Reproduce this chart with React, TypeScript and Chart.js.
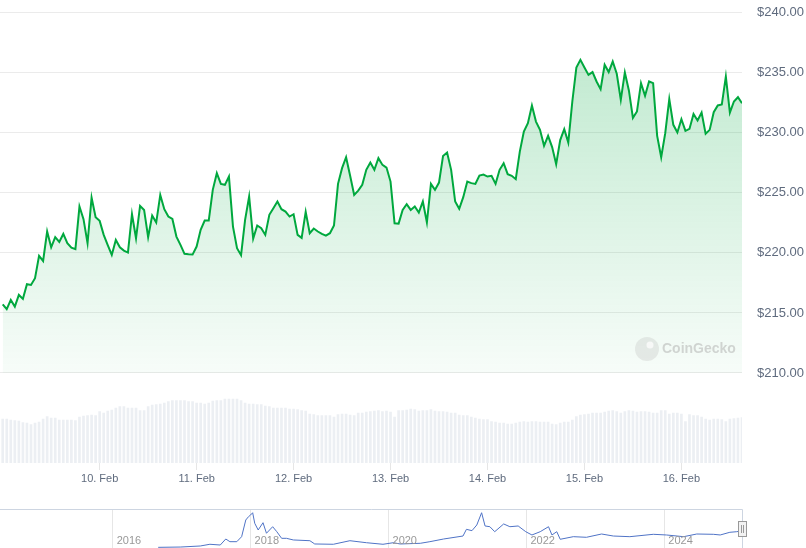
import React, { useEffect, useRef } from "react";
import { Chart, registerables } from "chart.js";

Chart.register(...registerables);

const FONT = "'Liberation Sans', Arial, Helvetica, sans-serif";
const GREEN = "#00a83e";
const LABEL = "#5f6b7e";

// hours since 9 Feb 00:00 at which the day ticks sit
const dayTickHours = [24, 48, 72, 96, 120, 144, 168];
const dayLabels = ["10. Feb", "11. Feb", "12. Feb", "13. Feb", "14. Feb", "15. Feb", "16. Feb"];
const priceTicks = [210, 215, 220, 225, 230, 235, 240];

// hourly prices (USD), 9 Feb 00:00 -> 16 Feb 15:00
const priceValues = [
  215.72, 215.31, 216.08, 215.53, 216.5, 216.17, 217.39, 217.33, 217.89, 219.75,
  219.33, 221.78, 220.47, 221.31, 220.92, 221.58, 220.81, 220.44, 220.31, 223.86,
  222.81, 220.81, 224.61, 222.97, 222.67, 221.5, 220.64, 219.83, 221.08, 220.47,
  220.19, 220.03, 223.22, 221.22, 223.92, 223.58, 221.31, 223.11, 222.53, 224.83,
  223.64, 223.03, 222.83, 221.36, 220.67, 219.92, 219.88, 219.86, 220.53, 221.92,
  222.69, 222.69, 225.25, 226.64, 225.75, 225.67, 226.36, 222.19, 220.39, 219.81,
  222.75, 224.69, 221.19, 222.28, 222.06, 221.5, 223.17, 223.72, 224.28, 223.64,
  223.44, 223.03, 223.22, 221.5, 221.25, 223.42, 221.64, 222.03, 221.78, 221.58,
  221.44, 221.64, 222.28, 225.75, 227.06, 227.97, 226.42, 224.83, 225.19, 225.67,
  226.92, 227.53, 226.92, 227.89, 227.33, 227.11, 225.94, 222.47, 222.44, 223.58,
  224.06, 223.58, 223.86, 223.36, 224.28, 222.53, 225.75, 225.25, 225.86, 228.08,
  228.36, 226.92, 224.28, 223.67, 224.64, 225.94, 225.81, 225.75, 226.44, 226.53,
  226.36, 226.42, 225.75, 226.92, 227.47, 226.56, 226.42, 226.14, 228.44, 230.11,
  230.81, 232.28, 230.94, 230.25, 228.92, 229.75, 228.81, 227.39, 229.4, 230.31,
  229.19, 232.61, 235.44, 236.08, 235.44, 234.83, 235.06, 234.28, 233.64, 235.67,
  235.06, 235.94, 234.92, 232.75, 235.03, 233.53, 231.25, 231.78, 234.14, 233.08,
  234.28, 234.14, 229.75, 227.97, 229.97, 232.81, 230.67, 230.03, 231.14, 230.17,
  230.33, 231.58, 231.03, 231.69, 229.92, 230.25, 231.72, 232.28, 232.36, 234.69,
  231.69, 232.61, 232.97, 232.47,
];

// hourly volume (USD millions, approximate)
const volumeValues = [
  44, 44, 43, 42.5, 42, 40.5, 40, 38.5, 40, 41,
  44, 46.5, 45, 45, 43, 43, 43, 43, 42.5, 46,
  47, 47.5, 48, 47.5, 51.5, 50, 52, 53, 55, 56.5,
  56.5, 55, 55, 55, 52.5, 52.5, 56.5, 58, 58.5, 59,
  60, 61.5, 62.5, 62.5, 62.5, 62.5, 61.5, 61.5, 60, 60,
  59, 60, 62, 62.5, 62.5, 64, 64, 64, 64, 62.5,
  60, 59, 59, 58.5, 58.5, 57, 56.5, 55, 55, 55,
  55, 54, 54, 53.5, 52.5, 52, 49, 48.5, 47.5, 47.5,
  47.5, 47.5, 46, 48.5, 49, 49, 48, 47.5, 50, 50,
  51, 51.5, 52, 52.5, 51.5, 52, 51, 46, 52.5,
  52.5, 53, 54, 53.5, 52, 52.5, 52.5, 53.5, 52, 51.5,
  51.5, 51, 50, 50, 48, 47.5, 47.5, 46, 45, 44,
  43.5, 43.5, 41.5, 41, 40, 40, 39, 39, 40, 41,
  41.5, 41, 41.5, 41.5, 41, 41, 41, 39, 38.5, 40,
  41, 41, 43, 46.5, 48, 48.5, 49, 50, 50, 50,
  51, 52, 52.5, 51.5, 50, 51.5, 52.5, 52, 51, 51.5,
  51.5, 51, 50, 50, 52.5, 52.5, 49, 50, 50, 49,
  41.5, 48.5, 47.5, 47.5, 46, 44, 43, 44, 44, 43.5,
  41.5, 44, 44.5, 45, 45.5,
];

// navigator: full history (decimal year, USD)
const navYearTicks = [2016, 2018, 2020, 2022, 2024];
const navYears = [
  2016.66, 2016.98, 2017.27, 2017.41, 2017.56, 2017.64, 2017.7, 2017.8, 2017.87, 2017.93,
  2017.97, 2018.0, 2018.03, 2018.06, 2018.11, 2018.18, 2018.23, 2018.32, 2018.38, 2018.45,
  2018.52, 2018.62, 2018.86, 2018.93, 2019.2, 2019.44, 2019.68, 2019.92, 2020.07, 2020.17,
  2020.46, 2020.6, 2020.8, 2021.08, 2021.13, 2021.21, 2021.28, 2021.35, 2021.4, 2021.47,
  2021.54, 2021.67, 2021.76, 2021.88, 2021.99, 2022.08, 2022.2, 2022.32, 2022.37, 2022.44,
  2022.49, 2022.68, 2022.87, 2023.09, 2023.26, 2023.5, 2023.84, 2024.03, 2024.28, 2024.47,
  2024.71, 2024.81, 2024.95, 2025.05, 2025.13,
];
const navPrices = [
  9, 13, 27, 50, 40, 121, 85, 85, 152, 376,
  421, 444, 474, 332, 242, 340, 198, 286, 219, 130,
  130, 108, 98, 54, 50, 98, 71, 50, 71, 54,
  63, 85, 121, 161, 251, 233, 309, 474, 296, 286,
  219, 323, 286, 296, 219, 175, 219, 286, 175, 219,
  117, 152, 144, 188, 161, 152, 184, 175, 152, 188,
  184, 175, 211, 219, 232,
];

Chart.defaults.font.family = FONT;

const MAIN_TOP = -10;
const MAIN_H = 510;

function MainChart() {
  const ref = useRef<HTMLCanvasElement>(null);
  useEffect(() => {
    const canvas = ref.current!;
    const watermark = {
      id: "watermark",
      afterDatasetsDraw(chart: any) {
        const c = chart.ctx;
        const cx = 647;
        const cy = 349 - MAIN_TOP;
        c.save();
        c.fillStyle = "rgba(150,150,150,0.18)";
        c.beginPath();
        c.arc(cx, cy, 12, 0, Math.PI * 2);
        c.fill();
        c.fillStyle = "rgba(255,255,255,0.7)";
        c.beginPath();
        c.arc(cx + 3, cy - 4, 3.5, 0, Math.PI * 2);
        c.fill();
        c.fillStyle = "rgba(150,150,150,0.38)";
        c.font = "600 14px " + FONT;
        c.textBaseline = "middle";
        c.textAlign = "left";
        c.fillText("CoinGecko", 662, cy);
        c.restore();
      },
    };
    const chart = new Chart(canvas, {
      type: "line",
      data: {
        datasets: [
          {
            type: "line",
            data: priceValues.map((v, i) => ({ x: i, y: v })),
            yAxisID: "y",
            borderColor: GREEN,
            borderWidth: 2,
            pointRadius: 0,
            tension: 0,
            fill: { value: 210 },
            backgroundColor: (ctx: any) => {
              const ch = ctx.chart;
              const ca = ch.chartArea;
              if (!ca) return "transparent";
              const bottom = ch.scales.y.getPixelForValue(210);
              const g = ch.ctx.createLinearGradient(0, ca.top, 0, bottom);
              g.addColorStop(0, "rgba(0,168,62,0.27)");
              g.addColorStop(1, "rgba(0,168,62,0.03)");
              return g;
            },
            order: 0,
          } as any,
          {
            type: "bar",
            data: volumeValues.map((v, i) => ({ x: i, y: v })),
            yAxisID: "yv",
            backgroundColor: "#eceff3",
            barThickness: 2,
            order: 1,
          } as any,
        ],
      },
      options: {
        animation: false,
        responsive: false,
        maintainAspectRatio: false,
        layout: { padding: { top: 0, left: 0, right: 0, bottom: 0 } },
        plugins: { legend: { display: false }, tooltip: { enabled: false } },
        scales: {
          x: {
            type: "linear",
            min: -0.67,
            max: 183,
            offset: false,
            afterBuildTicks: (ax: any) => {
              ax.ticks = dayTickHours.map((v) => ({ value: v }));
            },
            ticks: {
              autoSkip: false,
              maxRotation: 0,
              padding: 2,
              color: LABEL,
              font: { size: 11, family: FONT },
              callback: (v: any) => {
                const k = dayTickHours.indexOf(Number(v));
                return k >= 0 ? dayLabels[k] : "";
              },
            },
            grid: {
              offset: false,
              drawOnChartArea: false,
              drawTicks: true,
              tickLength: 7,
              color: "#e6e6e6",
            },
            border: { display: false },
            afterFit: (ax: any) => {
              ax.height = 37;
            },
          },
          y: {
            position: "right",
            min: 202.5,
            max: 240,
            afterBuildTicks: (ax: any) => {
              ax.ticks = priceTicks.map((v) => ({ value: v }));
            },
            ticks: {
              padding: 15,
              color: LABEL,
              font: { size: 13, family: FONT },
              callback: (v: any) => "$" + Number(v).toFixed(2),
            },
            grid: { drawTicks: false, color: "#ebebeb" },
            border: { display: false },
            afterFit: (ax: any) => {
              ax.width = 64;
            },
          },
          yv: { display: false, min: 0, max: 450 },
        },
      } as any,
      plugins: [watermark],
    });
    return () => chart.destroy();
  }, []);
  return (
    <canvas
      ref={ref}
      width={806}
      height={MAIN_H}
      style={{ position: "absolute", left: 0, top: MAIN_TOP, width: 806, height: MAIN_H }}
    />
  );
}

function Navigator() {
  const ref = useRef<HTMLCanvasElement>(null);
  useEffect(() => {
    const canvas = ref.current!;
    const deco = {
      id: "navdeco",
      afterDraw(chart: any) {
        const c = chart.ctx;
        const ca = chart.chartArea;
        const xs = chart.scales.x;
        c.save();
        c.strokeStyle = "#cdd5e1";
        c.lineWidth = 1;
        c.beginPath();
        c.moveTo(0, ca.top + 0.5);
        c.lineTo(ca.right + 0.5, ca.top + 0.5);
        c.lineTo(ca.right + 0.5, ca.bottom);
        c.stroke();
        c.fillStyle = "#999999";
        c.font = "11px " + FONT;
        c.textBaseline = "middle";
        c.textAlign = "left";
        navYearTicks.forEach((y) => {
          c.fillText(String(y), xs.getPixelForValue(y) + 4, 41);
        });
        // handle
        c.fillStyle = "#f2f2f2";
        c.strokeStyle = "#999999";
        c.fillRect(738.5, 21.5, 8, 15);
        c.strokeRect(738.5, 21.5, 8, 15);
        c.beginPath();
        c.moveTo(741.5, 25);
        c.lineTo(741.5, 33);
        c.moveTo(743.5, 25);
        c.lineTo(743.5, 33);
        c.stroke();
        c.restore();
      },
    };
    const chart = new Chart(canvas, {
      type: "line",
      data: {
        datasets: [
          {
            data: navYears.map((y, i) => ({ x: y, y: navPrices[i] })),
            borderColor: "#4f73c6",
            borderWidth: 1,
            pointRadius: 0,
            tension: 0,
            fill: false,
          },
        ],
      },
      options: {
        animation: false,
        responsive: false,
        maintainAspectRatio: false,
        layout: { padding: { top: 9, left: 0, right: 64, bottom: 0 } },
        plugins: { legend: { display: false }, tooltip: { enabled: false } },
        scales: {
          x: {
            type: "linear",
            min: 2014.366,
            max: 2025.126,
            afterBuildTicks: (ax: any) => {
              ax.ticks = navYearTicks.map((v) => ({ value: v }));
            },
            ticks: { display: false },
            grid: { color: "#e6e6e6", drawTicks: false },
            border: { display: false },
            afterFit: (ax: any) => {
              ax.height = 0;
            },
          },
          y: { display: false, min: 0, max: 524 },
        },
      } as any,
      plugins: [deco],
    });
    return () => chart.destroy();
  }, []);
  return (
    <canvas
      ref={ref}
      width={806}
      height={48}
      style={{ position: "absolute", left: 0, top: 500, width: 806, height: 48 }}
    />
  );
}

export default function App() {
  return (
    <div
      style={{
        position: "fixed",
        left: 0,
        top: 0,
        width: 806,
        height: 548,
        background: "#ffffff",
        overflow: "hidden",
      }}
    >
      <MainChart />
      <Navigator />
    </div>
  );
}
